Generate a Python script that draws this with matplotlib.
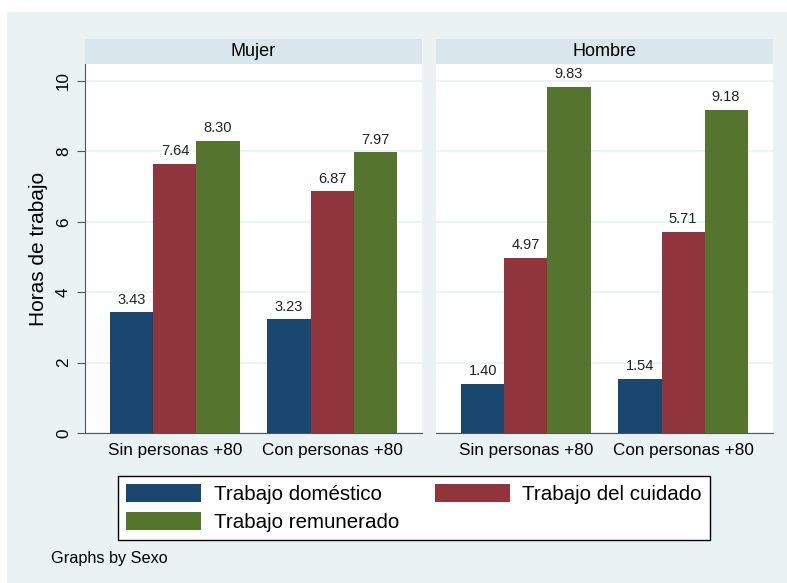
import matplotlib
matplotlib.use("Agg")
import matplotlib.pyplot as plt
import numpy as np
from matplotlib.patches import Rectangle, Patch

plt.rcParams["font.family"] = ["Liberation Sans", "DejaVu Sans"]

W, H = 787, 583

paneles = ["Mujer", "Hombre"]
grupos = ["Sin personas +80", "Con personas +80"]
series = ["Trabajo doméstico", "Trabajo del cuidado", "Trabajo remunerado"]
domestico = {"Mujer": [3.43, 3.23], "Hombre": [1.40, 1.54]}
cuidado = {"Mujer": [7.64, 6.87], "Hombre": [4.97, 5.71]}
remunerado = {"Mujer": [8.30, 7.97], "Hombre": [9.83, 9.18]}
yticks = [0, 2, 4, 6, 8, 10]

_AZUL = "#1a476f"
_ROJO = "#90353b"
_VERDE = "#55752f"
_FONDO = "#eaf2f3"
_CABECERA = "#d9e6eb"
colores = [_AZUL, _ROJO, _VERDE]


def fx(px):
    return px / W


def fy(py):
    return 1 - py / H


fig = plt.figure(figsize=(W / 100, H / 100), dpi=100)
fig.patches.append(Rectangle((fx(7), 0), 1 - fx(7), fy(12), transform=fig.transFigure,
                             facecolor=_FONDO, edgecolor="none", zorder=-10))

x = np.arange(len(grupos))
w = 0.274
lefts = [85, 436]
for i, panel in enumerate(paneles):
    ax = fig.add_axes([fx(lefts[i]), fy(433), fx(337), (433 - 64) / H])
    ax.set_facecolor("white")
    vals = [domestico[panel], cuidado[panel], remunerado[panel]]
    for k, v in enumerate(vals):
        bars = ax.bar(x + (k - 1) * w, v, w, color=colores[k], zorder=3)
        for b, val in zip(bars, v):
            ax.annotate(f"{val:.2f}", (b.get_x() + b.get_width() / 2, val),
                        xytext=(0, 4), textcoords="offset points",
                        ha="center", va="bottom", fontsize=10.5, color="#222222")
    ax.set_xlim(-0.573, 1.573)
    ax.set_ylim(0, 10.48)
    ax.set_xticks(x)
    ax.set_xticklabels(grupos, fontsize=12.3)
    ax.tick_params(axis="x", length=0, pad=7)
    ax.set_yticks(yticks)
    ax.grid(True, axis="y", color=_FONDO, linewidth=1.2, zorder=0)
    for s in ["top", "right"]:
        ax.spines[s].set_visible(False)
    ax.spines["bottom"].set_color("#555555")
    if i == 0:
        ax.spines["left"].set_color("#555555")
        ax.set_yticklabels([str(t) for t in yticks], rotation=90, va="center", fontsize=12.3)
        ax.tick_params(axis="y", length=6, color="#555555", pad=4)
        ax.set_ylabel("Horas de trabajo", fontsize=15, labelpad=6)
    else:
        ax.spines["left"].set_visible(False)
        ax.tick_params(axis="y", left=False, labelleft=False)

    hdr = fig.add_axes([fx(lefts[i]), fy(64), fx(337), 25 / H])
    hdr.set_facecolor(_CABECERA)
    hdr.set_xticks([])
    hdr.set_yticks([])
    for s in hdr.spines.values():
        s.set_visible(False)
    hdr.text(0.5, 0.5, panel, ha="center", va="center", fontsize=13, transform=hdr.transAxes)

handles = [Patch(facecolor=c, edgecolor="none") for c in colores]
orden = [0, 2, 1]
leg = fig.legend([handles[j] for j in orden], [series[j] for j in orden],
                 ncol=2, loc="center", bbox_to_anchor=(fx(414), fy(508)),
                 fontsize=14.8, handlelength=3.65, handleheight=0.95,
                 columnspacing=1.75, labelspacing=0.38, fancybox=False,
                 edgecolor="black", framealpha=1, borderpad=0.4, handletextpad=0.6)
leg.get_frame().set_linewidth(1.0)

fig.text(fx(51), fy(558), "Graphs by Sexo", ha="left", va="center", fontsize=11.7)

fig.savefig("out.png", dpi=100)
